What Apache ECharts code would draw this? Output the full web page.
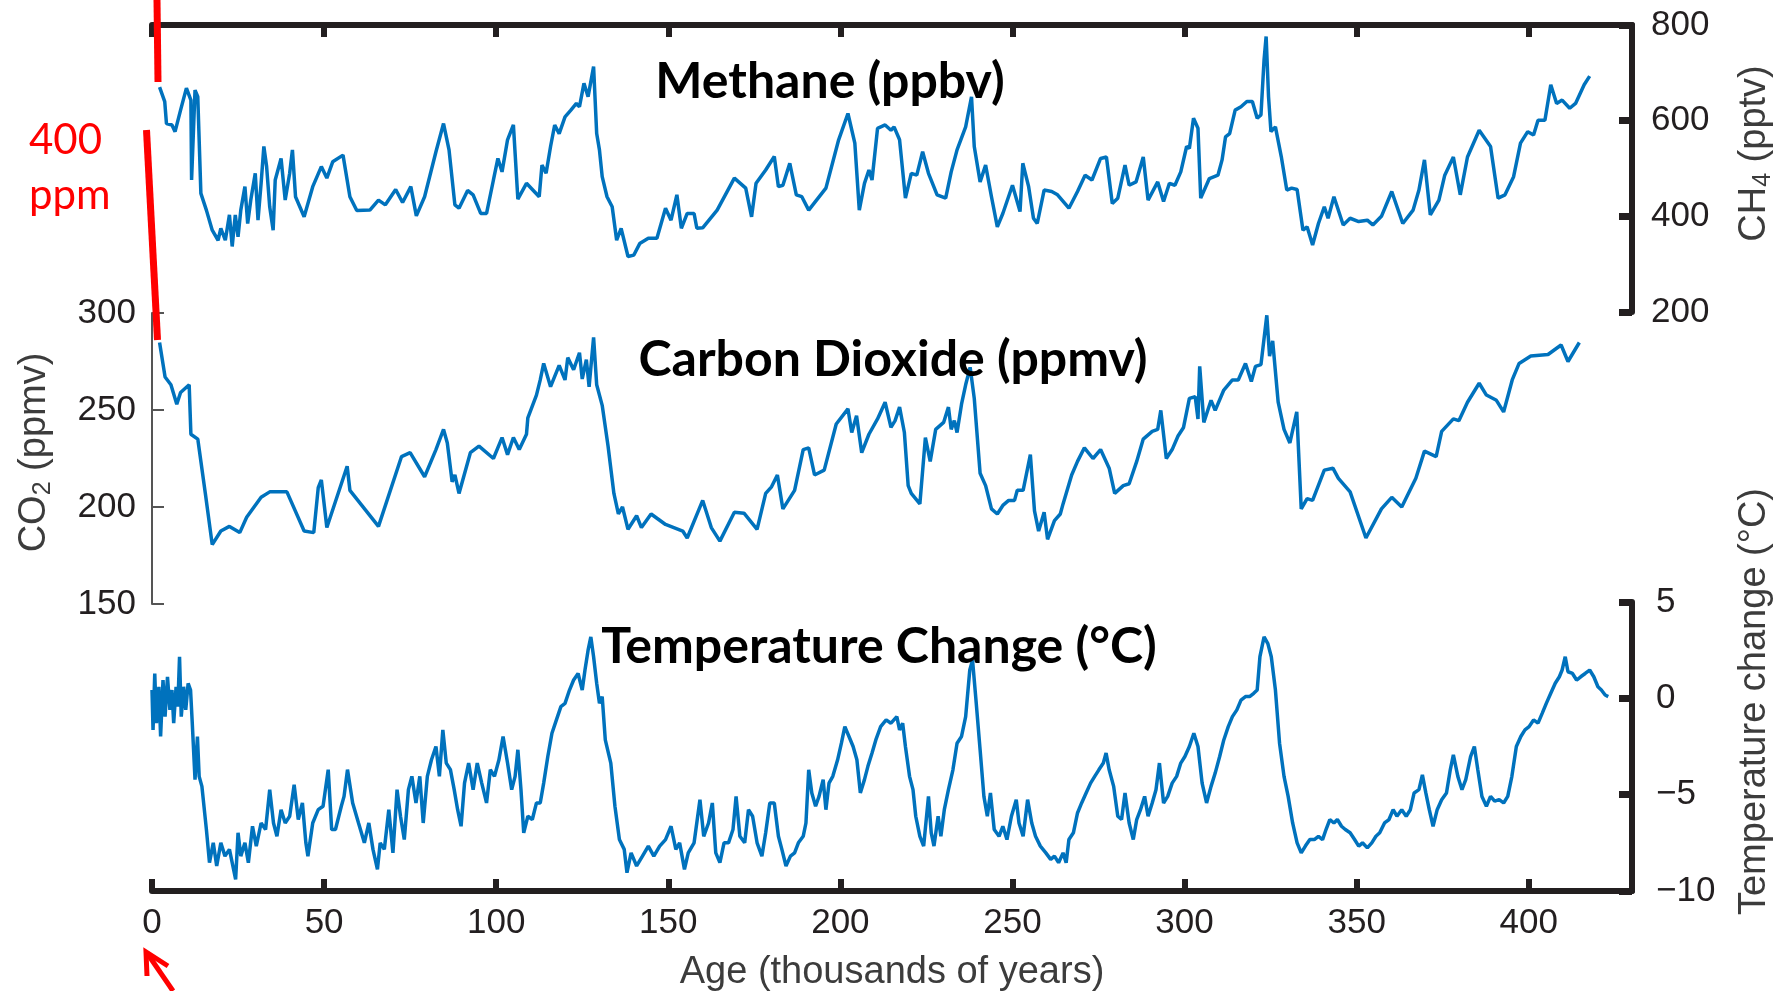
<!DOCTYPE html>
<html>
<head>
<meta charset="utf-8">
<title>Vostok ice core</title>
<script src="https://cdn.jsdelivr.net/npm/echarts@6/dist/echarts.min.js"></script>
<style>
  html, body { margin: 0; padding: 0; background: #fff; }
  #chart { width: 1779px; height: 991px; }
</style>
</head>
<body>
<div id="chart"></div>
<script>
// age in thousands of years
const methane = [
  [2.2, 670], [3.7, 640], [4.2, 594], [5.8, 591], [6.7, 577], [8.3, 622], [10, 668], [11.3, 643], [11.5, 476],
  [12.5, 664], [13.3, 650], [14.2, 448], [15.8, 413], [17.5, 371], [19.2, 350], [20, 375], [21.3, 350],
  [22.5, 403], [23.3, 337], [24.2, 403], [25, 357], [25.8, 413], [27, 462], [27.8, 385], [28.7, 434],
  [30, 490], [30.8, 392], [31.7, 469], [32.5, 546], [33.3, 504], [34.2, 420], [35.2, 371], [35.8, 476],
  [37.5, 521], [38.7, 434], [40, 490], [40.8, 539], [41.7, 441], [44.2, 399], [46.7, 462], [49.2, 504],
  [50.8, 480], [52.5, 514], [55.5, 528], [57.5, 441], [59.5, 412], [63.3, 413], [65.8, 434], [67.8, 424],
  [70.8, 456], [72.8, 429], [75.2, 462], [76.8, 401], [79.2, 441], [82.5, 535], [84.7, 594], [86.3, 539],
  [88, 424], [89.2, 417], [91.7, 454], [93.3, 445], [95.5, 406], [97.2, 406], [99.2, 476], [100.5, 521],
  [101.7, 493], [103.3, 560], [105, 591], [106.3, 436], [108.8, 469], [112.5, 441], [113.3, 507],
  [114.5, 490], [115.8, 546], [117, 591], [118.3, 573], [120, 608], [121.7, 622], [123.3, 636],
  [124.2, 629], [125.5, 678], [126.7, 650], [128.3, 713], [129.2, 573], [130, 539], [130.8, 483],
  [132.2, 441], [133.7, 420], [135, 350], [136.3, 375], [138.3, 316], [140, 319], [141.7, 343],
  [144.2, 354], [146.7, 354], [149.2, 417], [150.8, 392], [152.5, 445], [153.8, 375], [155.5, 406],
  [157.5, 406], [158.3, 375], [160, 376], [164.2, 413], [169.2, 480], [172.5, 459], [174.2, 399],
  [175.5, 469], [178.3, 497], [180.8, 525], [182, 462], [183.3, 465], [185.3, 511], [187.2, 445],
  [188.8, 441], [190.8, 413], [195.8, 459], [199.5, 560], [202.2, 615], [204.2, 553], [205.5, 413],
  [207, 469], [208.3, 497], [209.2, 476], [210.8, 584], [213, 591], [214.7, 580], [215.6, 587],
  [217.2, 560], [218.9, 438], [220.6, 490], [222.2, 486], [223.9, 535], [225.6, 490], [228.1, 445],
  [230.6, 438], [232.2, 493], [233.9, 539], [236.4, 587], [238.1, 650], [238.9, 546], [240.6, 472],
  [242.2, 507], [243.9, 441], [245.6, 378], [247.2, 406], [250, 465], [252.2, 410], [253, 511],
  [254.7, 462], [256.1, 396], [257.2, 385], [259.2, 455], [261.4, 452], [263.1, 445], [266.4, 417],
  [268.9, 452], [271.1, 486], [273.1, 476], [275.6, 521], [277.3, 524], [279, 427], [280.6, 438],
  [282.7, 507], [283.9, 465], [285.9, 472], [288, 524], [289.4, 434], [292.2, 472], [293.9, 431],
  [295.6, 469], [297.2, 465], [298.9, 493], [300.6, 546], [301.4, 542], [302.6, 605], [303.9, 584],
  [304.7, 438], [307.2, 479], [309.7, 486], [310.9, 518], [311.9, 566], [313.1, 573], [314.7, 622],
  [316.4, 629], [318.1, 640], [319.7, 640], [321.1, 605], [322.2, 612], [323.1, 727], [323.7, 776],
  [324.4, 650], [325.1, 577], [326.4, 587], [328.1, 525], [329.7, 455], [331.1, 459], [332.7, 456],
  [334.4, 371], [335.6, 378], [337.2, 340], [338.9, 385], [340.6, 420], [341.7, 396], [343.4, 441],
  [346.1, 382], [348.1, 396], [350.6, 389], [353.1, 392], [354.7, 382], [357.2, 400], [360.2, 452],
  [363.4, 385], [366.4, 413], [368.1, 455], [369.7, 518], [371.4, 403], [373.9, 434], [375.6, 486],
  [378.1, 524], [380.1, 445], [382.2, 524], [385.6, 580], [388.9, 546], [391.1, 438], [393.1, 445],
  [395.6, 483], [397.6, 553], [399.7, 577], [401.4, 570], [402.7, 601], [404.7, 601], [406.4, 675],
  [408.1, 636], [409.7, 643], [411.9, 626], [413.6, 636], [416.1, 675], [417.7, 693]
]

const co2 = [
  [2.2, 284.8], [3.8, 267], [5.5, 263], [7.2, 253], [8.3, 259], [10.8, 263], [11.3, 237.5], [13.3, 235],
  [15.5, 207], [17.5, 180.6], [20, 187.6], [22.5, 190], [25.5, 186.8], [27.5, 194.7], [31.7, 205],
  [34.2, 207.8], [39.2, 207.8], [44.2, 187.6], [47, 186.8], [48.3, 210], [49.2, 214], [50.8, 189.4],
  [56.7, 221], [57.5, 208.6], [65.8, 190], [72.5, 226], [75, 228], [79.2, 215.6], [82.5, 229.6],
  [84.7, 240], [85.8, 233], [87.2, 213], [88, 216.5], [89.2, 207], [92.5, 228], [95, 231.4],
  [99.2, 225], [101.7, 235.8], [103.3, 227], [105, 235.8], [106.7, 229.6], [108.8, 237.5], [109.2, 246],
  [111.7, 257.7], [112.8, 265.5], [113.8, 274], [115.8, 262], [118.3, 273], [120, 265.5], [120.8, 277],
  [122.5, 270.8], [124.2, 279.5], [125, 266], [126.2, 276], [127, 262], [128.3, 287.4], [129.2, 263],
  [130.8, 252.4], [132.5, 231.4], [134.2, 207], [135.5, 196.4], [136.7, 200], [138.3, 188.5],
  [140.8, 195.5], [142.2, 189.4], [145, 196.4], [149.2, 191], [154.2, 187.6], [155.5, 184], [160, 203.4],
  [162.5, 189.4], [165, 182.4], [169.2, 197.3], [172, 196.8], [175.8, 188.5], [178.3, 207], [180, 210.4],
  [181.7, 216.5], [183.3, 199], [186.7, 208.6], [189.2, 229.6], [190.8, 230.5], [192.5, 216.5],
  [195.3, 219], [198.8, 242.8], [202.2, 250.6], [203.3, 238.4], [204.7, 247], [206.2, 228],
  [208.3, 237.5], [210.8, 245.4], [213, 254], [214.7, 241], [215.9, 244.5], [217.2, 251.5],
  [218.6, 238.4], [219.7, 211], [220.6, 207], [223.1, 201.6], [224.7, 235.8], [226.1, 223.5],
  [227.7, 240], [230, 243.6], [231.4, 251.5], [232.2, 240], [233.1, 244.5], [233.9, 238.4], [235.2, 253],
  [236.4, 263], [237.7, 272], [238.9, 256], [240.6, 217.4], [242.2, 211], [243.9, 199], [245.6, 196.4],
  [247.2, 200.8], [248.9, 203.4], [250.6, 203.4], [251.4, 208.6], [253.1, 208.6], [255.2, 227],
  [256.4, 198], [257.6, 187.6], [259.2, 197.3], [260.2, 183.3], [262.2, 193], [263.9, 196.4],
  [264.7, 201.6], [267.2, 216.5], [268.9, 223.5], [270.9, 230.5], [273.4, 225], [275.6, 229.6],
  [278.1, 220], [279.7, 207], [282.2, 211], [283.9, 212], [286.1, 223.5], [288, 235], [290.6, 239],
  [292.2, 240], [293.1, 249.8], [294.7, 225], [296.4, 229.6], [298.1, 236.6], [299.7, 241], [301.4, 256],
  [303.1, 256.8], [303.9, 245.4], [304.4, 272.5], [305.6, 243.6], [307.7, 255], [308.9, 249.8],
  [311.4, 260.3], [313.9, 265.5], [315.6, 265.5], [317.7, 274], [319.4, 264.7], [320.6, 272.5],
  [322.2, 273.4], [323.9, 298.8], [324.7, 277.8], [325.6, 285.6], [327.2, 254], [328.9, 240],
  [330.6, 233], [332.6, 249], [333.9, 199], [335.6, 204.3], [337.2, 203.4], [340.6, 219], [343.1, 220],
  [344.7, 214.8], [348.1, 207.8], [352.7, 184], [357.2, 199], [360.2, 205], [363.1, 200], [367.2, 214.8],
  [369.7, 228.8], [373.1, 226], [374.7, 239], [378.1, 245.4], [379.7, 244.5], [382.2, 254], [385.6, 263.8],
  [387.7, 257.7], [390.6, 255], [392.7, 249], [395.2, 265.5], [397.2, 274], [400.6, 277.8], [405.6, 278.6],
  [409.4, 283.5], [411.4, 275], [414.7, 284.8]
]

const temperature = [
  [0, 0.43], [0.3, -1.64], [0.8, 1.29], [1.3, -1.29], [2, 0.6], [2.5, -1.98], [3.2, 0.95], [3.8, -0.95],
  [4.5, 1.12], [5.2, -0.6], [5.8, 0.43], [6.3, -1.29], [7, 0.6], [7.5, -0.43], [8, 2.16], [8.5, -0.95],
  [9.2, 0.6], [9.8, -0.6], [10.5, 0.78], [11.2, 0.43], [11.7, -1.29], [12.5, -4.22], [13.2, -1.98],
  [13.7, -4.05], [14.5, -4.57], [15.8, -6.8], [16.7, -8.53], [17.8, -7.5], [18.8, -8.7], [20, -7.5],
  [21.2, -8.19], [22.5, -7.84], [23.7, -8.88], [24.3, -9.4], [25, -6.98], [25.8, -8.19], [27, -7.5],
  [28, -8.53], [29.2, -6.64], [30.3, -7.67], [31.7, -6.47], [33, -6.81], [34.2, -4.74], [35.3, -6.47],
  [36.3, -7.16], [37.5, -5.78], [38.7, -6.47], [40, -6.12], [41.3, -4.48], [42.5, -6.29], [43.7, -5.43],
  [44.7, -7.5], [45.3, -8.19], [46.7, -6.47], [48.3, -5.78], [49.7, -5.6], [51.2, -3.7], [52.2, -6.81],
  [53.3, -6.81], [55, -5.6], [55.8, -5.09], [56.8, -3.7], [58.3, -5.43], [60, -6.47], [61.7, -7.5],
  [63, -6.47], [64.2, -7.84], [65.5, -8.88], [66.3, -7.5], [67.5, -7.84], [68.8, -5.78], [70, -8.02],
  [71.2, -4.74], [72.2, -6.12], [73.3, -7.33], [74.5, -4.74], [75.5, -4.05], [76.7, -5.43], [77.8, -4.05],
  [78.8, -6.47], [80, -4.05], [81.2, -3.19], [82.5, -2.5], [83.5, -4.05], [84.5, -1.64], [85.5, -3.36],
  [86.7, -3.7], [87.8, -4.74], [88.8, -5.78], [89.8, -6.64], [90.8, -4.4], [92, -3.36], [93.3, -4.74],
  [94.5, -3.36], [95.8, -4.4], [97.2, -5.43], [98.3, -3.7], [99.5, -4.05], [100.8, -3.19], [102, -1.98],
  [103.3, -3.36], [104.5, -4.74], [105.5, -4.05], [106.3, -2.67], [107.2, -4.74], [108, -6.98],
  [109.2, -6.12], [110.5, -6.29], [111.7, -5.43], [112.8, -5.43], [113.8, -4.4], [115, -3.02],
  [116.2, -1.81], [117.5, -1.12], [118.8, -0.43], [120, -0.26], [121.3, 0.43], [122.5, 0.95],
  [123.8, 1.29], [125, 0.43], [125.8, 1.47], [126.7, 2.5], [127.5, 3.19], [128.3, 2.16], [129.2, 0.78],
  [130, -0.26], [130.8, 0.09], [131.7, -2.16], [133.3, -3.36], [134.5, -5.6], [135.8, -7.33],
  [137.2, -7.84], [138, -9.05], [139.2, -8.02], [140.8, -8.7], [142.5, -8.19], [144.2, -7.67],
  [145.8, -8.19], [147.5, -7.67], [149.2, -7.33], [150.8, -6.64], [152.2, -7.84], [153.3, -7.5],
  [154.7, -8.88], [155.8, -8.02], [157.5, -7.5], [159.2, -5.26], [160.3, -7.16], [161.7, -6.47],
  [162.8, -5.43], [163.8, -8.02], [165, -8.53], [166.2, -7.5], [167.5, -7.5], [168.8, -6.81],
  [169.7, -5.09], [170.8, -7.16], [172.2, -7.5], [173.3, -5.78], [174.5, -6.12], [175.8, -7.5],
  [177.2, -8.19], [178.3, -6.98], [179.5, -5.43], [180.8, -5.43], [182, -7.16], [183, -7.84],
  [184.2, -8.7], [185.5, -8.19], [186.7, -8.02], [187.8, -7.5], [189.2, -7.16], [190, -6.47],
  [190.8, -3.71], [191.7, -4.91], [192.8, -5.6], [193.8, -5.09], [195, -4.22], [195.8, -5.78],
  [196.7, -4.4], [197.8, -4.05], [199.2, -3.19], [200.3, -2.33], [201.3, -1.47], [202.5, -1.98],
  [203.7, -2.5], [204.8, -3.19], [205.8, -4.91], [207, -4.22], [208, -3.53], [209.2, -2.84],
  [210.3, -2.16], [211.7, -1.47], [213.3, -1.12], [214.7, -1.29], [216.4, -0.95], [217.2, -1.64],
  [218.1, -1.29], [218.9, -2.5], [220.1, -4.05], [221.1, -4.74], [221.9, -6.12], [223.1, -7.16],
  [224.2, -7.67], [225.6, -5.09], [226.4, -6.98], [227.2, -7.67], [228.4, -6.12], [229.2, -7.16],
  [230.2, -5.78], [231.4, -4.74], [232.7, -3.71], [233.9, -2.33], [235.2, -1.98], [236.4, -0.95],
  [237.6, 1.47], [238.4, 1.98], [239.4, -0.09], [240.6, -2.67], [241.7, -5.09], [242.7, -6.12],
  [243.6, -4.91], [244.7, -6.81], [246.1, -7.16], [247.2, -6.64], [248.4, -7.33], [249.7, -6.12],
  [251.1, -5.26], [251.9, -6.47], [253.1, -7.16], [254.4, -5.26], [255.6, -6.47], [256.7, -7.16],
  [258.1, -7.67], [259.7, -8.02], [261.1, -8.36], [262.2, -8.19], [263.4, -8.53], [264.7, -8.02],
  [265.6, -8.53], [266.4, -7.33], [267.7, -6.98], [268.9, -5.95], [270.1, -5.43], [271.4, -4.91],
  [272.7, -4.4], [273.9, -4.05], [275.1, -3.71], [276.4, -3.36], [277.2, -2.84], [278.1, -3.71],
  [279.4, -4.57], [280.6, -6.12], [281.7, -6.29], [282.7, -4.91], [283.9, -6.47], [285.1, -7.33],
  [286.1, -6.29], [287.2, -5.78], [288.4, -5.09], [289.4, -6.12], [290.6, -5.43], [291.7, -4.74],
  [292.7, -3.36], [293.9, -5.43], [295.1, -5.09], [296.4, -4.4], [297.7, -4.05], [298.9, -3.36],
  [300.1, -3.02], [301.4, -2.5], [302.7, -1.81], [303.9, -2.5], [305.1, -4.4], [306.4, -5.43],
  [307.7, -4.57], [308.9, -3.88], [310.2, -3.02], [311.4, -2.16], [312.7, -1.47], [313.9, -0.95],
  [315.2, -0.6], [316.4, -0.09], [317.7, 0.09], [318.9, 0.09], [320.1, 0.26], [321.1, 0.43],
  [321.9, 2.16], [323.1, 3.19], [324.2, 2.84], [325.2, 2.16], [326.4, 0.43], [327.6, -2.33],
  [328.9, -4.05], [330.1, -5.09], [331.4, -6.47], [332.7, -7.5], [333.9, -8.02], [335.1, -7.67],
  [336.4, -7.33], [337.7, -7.33], [338.9, -7.16], [340.1, -7.33], [341.1, -6.81], [342.2, -6.29],
  [343.4, -6.47], [344.4, -6.29], [345.6, -6.64], [346.7, -6.81], [348.1, -6.98], [349.4, -7.33],
  [350.6, -7.67], [351.7, -7.5], [353.1, -7.76], [354.4, -7.5], [355.6, -7.16], [356.7, -6.98],
  [358.1, -6.47], [359.4, -6.29], [360.6, -5.78], [361.7, -6.12], [363.1, -5.78], [364.4, -6.12],
  [365.6, -5.78], [366.7, -4.91], [368.1, -4.74], [369.1, -3.97], [370.1, -4.91], [371.1, -5.78],
  [372.2, -6.64], [373.4, -5.78], [374.7, -5.26], [376.1, -4.91], [377.2, -3.71], [378.1, -2.93],
  [379.4, -4.05], [380.6, -4.74], [381.7, -4.22], [383.1, -3.02], [384.2, -2.5], [385.2, -3.71],
  [386.4, -5.09], [387.7, -5.6], [388.9, -5.09], [390.1, -5.34], [391.4, -5.26], [392.7, -5.43],
  [393.9, -5.09], [395.1, -4.05], [396.4, -2.5], [397.7, -1.98], [398.9, -1.64], [400.1, -1.47],
  [401.4, -1.12], [402.7, -1.29], [403.9, -0.78], [405.1, -0.26], [406.4, 0.26], [407.7, 0.78],
  [408.9, 1.12], [409.7, 1.47], [410.6, 2.16], [411.4, 1.38], [412.7, 1.29], [413.9, 0.95],
  [415.1, 1.12], [416.4, 1.29], [417.7, 1.47], [418.9, 1.12], [420.1, 0.6], [421.1, 0.43],
  [422.2, 0.17], [423.1, 0.09]
]

const ageRange = [0, 430]
const methaneRange = [200, 800]
const co2Range = [150, 300]
const tempRange = [-10, 5]

const panelTitles = ['Methane (ppbv)', 'Carbon Dioxide (ppmv)', 'Temperature Change (°C)']

const chart = echarts.init(document.getElementById('chart'))

const black = '#231f20'
const blue = '#0072bd'
const tickFont = 'Liberation Sans, Arial, sans-serif'
const titleFont = 'Lato, Carlito, Calibri, sans-serif'

// thick frame style shared by the outer axes
const frameLine = { show: true, onZero: false, lineStyle: { color: black, width: 6 } }
const frameTick = { show: true, inside: true, length: 12, lineStyle: { color: black, width: 6 } }
const sideTick = { show: true, inside: true, length: 13, lineStyle: { color: black, width: 7 } }
const tickLabel = { fontSize: 35, color: black, fontFamily: tickFont }
const nameStyle = {
  fontSize: 38,
  color: '#3c3c3c',
  fontFamily: tickFont,
  lineHeight: 42,
  rich: {
    sub: { fontSize: 25, lineHeight: 25, verticalAlign: 'bottom', color: '#3c3c3c', fontFamily: tickFont }
  }
}

const option = {
  animation: false,
  backgroundColor: '#fff',
  // fixed panel boxes, no automatic shrinking for the labels
  grid: [
    { left: 152, right: 147, top: 25, height: 287, outerBoundsMode: 'none', containLabel: false },
    { left: 152, right: 147, top: 313, height: 291, outerBoundsMode: 'none', containLabel: false },
    { left: 152, right: 147, top: 602, height: 289, outerBoundsMode: 'none', containLabel: false }
  ],
  xAxis: [
    {
      gridIndex: 0,
      type: 'value',
      position: 'top',
      min: ageRange[0],
      max: ageRange[1],
      interval: 50,
      axisLine: frameLine,
      axisTick: frameTick,
      axisLabel: { show: false },
      splitLine: { show: false }
    },
    {
      gridIndex: 1,
      type: 'value',
      show: false,
      min: ageRange[0],
      max: ageRange[1]
    },
    {
      gridIndex: 2,
      type: 'value',
      position: 'bottom',
      min: ageRange[0],
      max: ageRange[1],
      interval: 50,
      axisLine: frameLine,
      axisTick: frameTick,
      axisLabel: Object.assign({ margin: 15, showMaxLabel: false }, tickLabel),
      splitLine: { show: false },
      name: 'Age (thousands of years)',
      nameLocation: 'middle',
      nameGap: 63,
      nameTextStyle: { fontSize: 38, color: '#3c3c3c', fontFamily: tickFont }
    }
  ],
  yAxis: [
    {
      gridIndex: 0,
      type: 'value',
      position: 'right',
      min: methaneRange[0],
      max: methaneRange[1],
      interval: 200,
      axisLine: frameLine,
      axisTick: sideTick,
      axisLabel: Object.assign({ margin: 19 }, tickLabel),
      splitLine: { show: false },
      name: 'CH{sub|4} (pptv)',
      nameLocation: 'middle',
      nameGap: 102,
      nameTextStyle: Object.assign({}, nameStyle, { padding: [0, 0, 0, 30] })
    },
    {
      gridIndex: 1,
      type: 'value',
      position: 'left',
      min: co2Range[0],
      max: co2Range[1],
      interval: 50,
      axisLine: { show: true, onZero: false, lineStyle: { color: '#555', width: 2 } },
      axisTick: { show: true, inside: true, length: 12, lineStyle: { color: '#555', width: 2 } },
      axisLabel: Object.assign({ margin: 16 }, tickLabel),
      splitLine: { show: false },
      name: 'CO{sub|2} (ppmv)',
      nameLocation: 'middle',
      nameGap: 96,
      nameTextStyle: Object.assign({}, nameStyle, { padding: [0, 0, 0, 12] })
    },
    {
      gridIndex: 2,
      type: 'value',
      position: 'right',
      min: tempRange[0],
      max: tempRange[1],
      interval: 5,
      axisLine: frameLine,
      axisTick: sideTick,
      axisLabel: Object.assign({
        margin: 24,
        formatter: v => String(v).replace('-', '\u2212')
      }, tickLabel),
      splitLine: { show: false },
      name: 'Temperature change (°C)',
      nameLocation: 'middle',
      nameGap: 102,
      nameTextStyle: Object.assign({}, nameStyle, { padding: [0, 0, 0, 90] })
    }
  ],
  series: [
    {
      name: 'Methane',
      type: 'line',
      xAxisIndex: 0,
      yAxisIndex: 0,
      data: methane,
      showSymbol: false,
      lineStyle: { color: blue, width: 3.5 }
    },
    {
      name: 'CO2',
      type: 'line',
      xAxisIndex: 1,
      yAxisIndex: 1,
      data: co2,
      showSymbol: false,
      lineStyle: { color: blue, width: 3.5 }
    },
    {
      name: 'Temperature',
      type: 'line',
      xAxisIndex: 2,
      yAxisIndex: 2,
      data: temperature,
      showSymbol: false,
      lineStyle: { color: blue, width: 3.5 }
    }
  ],
  graphic: [
    // panel titles
    {
      type: 'text', x: 830, y: 82, z: 10,
      style: { text: panelTitles[0], font: 'bold 50px ' + titleFont, fill: '#000', textAlign: 'center', textVerticalAlign: 'middle' }
    },
    {
      type: 'text', x: 893, y: 360, z: 10,
      style: { text: panelTitles[1], font: 'bold 50px ' + titleFont, fill: '#000', textAlign: 'center', textVerticalAlign: 'middle' }
    },
    {
      type: 'text', x: 879, y: 647, z: 10,
      style: { text: panelTitles[2], font: 'bold 50px ' + titleFont, fill: '#000', textAlign: 'center', textVerticalAlign: 'middle' }
    },
    // red annotation: CO2 today
    {
      type: 'line', z: 20,
      shape: { x1: 157, y1: 0, x2: 158, y2: 82 },
      style: { stroke: '#ff0000', lineWidth: 7 }
    },
    {
      type: 'line', z: 20,
      shape: { x1: 146.5, y1: 130, x2: 157.5, y2: 340 },
      style: { stroke: '#ff0000', lineWidth: 7 }
    },
    {
      type: 'text', x: 29, y: 161, z: 20,
      style: { text: '400', font: '42px ' + titleFont, fill: '#ff0000', textAlign: 'left', textVerticalAlign: 'bottom' }
    },
    {
      type: 'text', x: 29, y: 216, z: 20,
      style: { text: 'ppm', font: '42px ' + titleFont, fill: '#ff0000', textAlign: 'left', textVerticalAlign: 'bottom' }
    },
    {
      type: 'polyline', z: 20,
      shape: { points: [[173, 991], [147, 953]] },
      style: { stroke: '#ff0000', lineWidth: 5, fill: null }
    },
    {
      type: 'polyline', z: 20,
      shape: { points: [[168, 966], [146, 952], [147, 976]] },
      style: { stroke: '#ff0000', lineWidth: 5, fill: null, lineJoin: 'miter' }
    }
  ]
}

chart.setOption(option)
</script>
</body>
</html>
